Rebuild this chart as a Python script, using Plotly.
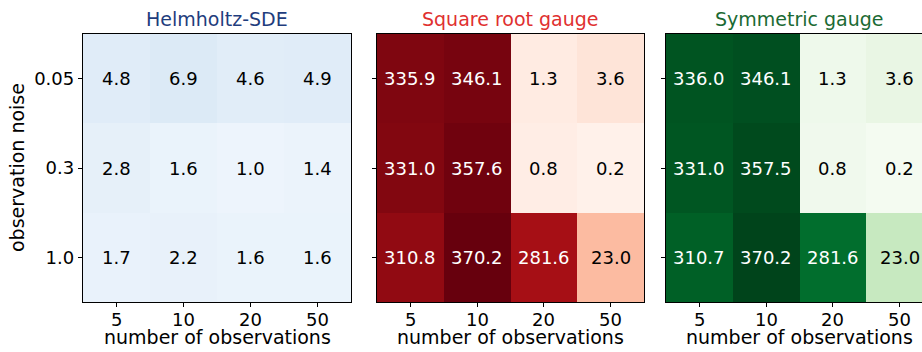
import numpy as np
import plotly.graph_objects as go
import plotly.colors as pc

# ---- data -------------------------------------------------------------
n_obs_labels = ["5", "10", "20", "50"]
noise_labels = ["0.05", "0.3", "1.0"]

helmholtz_sde = [
    [4.8, 6.9, 4.6, 4.9],
    [2.8, 1.6, 1.0, 1.4],
    [1.7, 2.2, 1.6, 1.6],
]
square_root_gauge = [
    [335.9, 346.1, 1.3, 3.6],
    [331.0, 357.6, 0.8, 0.2],
    [310.8, 370.2, 281.6, 23.0],
]
symmetric_gauge = [
    [336.0, 346.1, 1.3, 3.6],
    [331.0, 357.5, 0.8, 0.2],
    [310.7, 370.2, 281.6, 23.0],
]

panel_titles = ["Helmholtz-SDE", "Square root gauge", "Symmetric gauge"]
title_colors = ["#1f3d7d", "#e0302f", "#1b6a33"]
cmaps = [pc.sequential.Blues, pc.sequential.Reds, pc.sequential.Greens]
panels = [helmholtz_sde, square_root_gauge, symmetric_gauge]

# shared power-law (gamma = 0.5) colour normalisation across the panels
vmax = max(max(max(r) for r in p) for p in panels)

W, H = 922, 352
# panel placement in pixels (left, right); the last panel runs past the edge
px_left = [83, 377, 666]
px_right = [351, 644, 933]
px_top, px_bottom = 34, 302

FONT_NUM = "DejaVu Sans"
FONT_TXT = "DejaVu Sans"


def even_scale(colors):
    n = len(colors)
    return [[i / (n - 1), c] for i, c in enumerate(colors)]


fig = go.Figure()
annotations = []
ncol = len(n_obs_labels)

for k, (vals, cmap) in enumerate(zip(panels, cmaps)):
    arr = np.array(vals, dtype=float)
    norm = np.sqrt(arr / vmax)
    xa = "x" if k == 0 else f"x{k+1}"
    ya = "y" if k == 0 else f"y{k+1}"
    fig.add_trace(go.Heatmap(
        z=norm,
        x=list(range(ncol)),
        y=list(range(len(noise_labels))),
        colorscale=even_scale(cmap),
        zmin=0, zmax=1,
        showscale=False,
        hoverinfo="skip",
        xaxis=xa, yaxis=ya,
    ))

    # cell value labels: white on dark cells, black on light ones
    for i, row in enumerate(vals):
        for j, v in enumerate(row):
            annotations.append(dict(
                text=f"{v:.1f}", x=j, y=i, xref=xa, yref=ya,
                showarrow=False, xanchor="center", yanchor="middle",
                font=dict(family=FONT_NUM, size=18,
                          color="white" if norm[i, j] > 0.6 else "black"),
            ))

    l, r = px_left[k], px_right[k]
    vis_r = min(r, W)
    col_w = (r - l) / ncol
    x_hi = -0.5 + (vis_r - l) / col_w

    xkey = "xaxis" if k == 0 else f"xaxis{k+1}"
    ykey = "yaxis" if k == 0 else f"yaxis{k+1}"
    fig.layout[xkey] = dict(
        domain=[l / W, vis_r / W],
        range=[-0.5, x_hi],
        tickmode="array", tickvals=list(range(ncol)), ticktext=n_obs_labels,
        showticklabels=False,
        ticks="outside", ticklen=4, tickwidth=1, tickcolor="black",
        showline=True, linecolor="black", linewidth=1.3, mirror=True,
        showgrid=False, zeroline=False, anchor=ya, fixedrange=True,
    )
    fig.layout[ykey] = dict(
        domain=[1 - px_bottom / H, 1 - px_top / H],
        range=[2.5, -0.5],
        tickmode="array", tickvals=list(range(len(noise_labels))),
        ticktext=noise_labels, showticklabels=(k == 0),
        ticks="outside", ticklen=4, tickwidth=1, tickcolor="black",
        tickfont=dict(family=FONT_NUM, size=18, color="black"),
        showline=True, linecolor="black", linewidth=1.3,
        mirror=(vis_r == r),
        showgrid=False, zeroline=False, anchor=xa, fixedrange=True,
    )

    # x tick labels, placed just under the ticks
    for j, lab in enumerate(n_obs_labels):
        annotations.append(dict(
            text=lab, x=j, y=1 - 319 / H, xref=xa, yref="paper",
            showarrow=False, xanchor="center", yanchor="middle",
            font=dict(family=FONT_NUM, size=18, color="black"),
        ))

    cx = (l + r) / 2 / W
    annotations.append(dict(
        text=panel_titles[k], x=cx, y=1 - 19 / H, xref="paper", yref="paper",
        xanchor="center", yanchor="middle", showarrow=False,
        font=dict(family=FONT_TXT, size=19, color=title_colors[k]),
    ))
    annotations.append(dict(
        text="number of observations", x=cx, y=1 - 337 / H,
        xref="paper", yref="paper", xanchor="center", yanchor="middle",
        showarrow=False, font=dict(family=FONT_TXT, size=19, color="black"),
    ))

annotations.append(dict(
    text="observation noise", x=17 / W, y=1 - (px_top + px_bottom) / 2 / H,
    xref="paper", yref="paper", xanchor="center", yanchor="middle",
    textangle=-90, showarrow=False,
    font=dict(family=FONT_TXT, size=19, color="black"),
))

fig.update_layout(
    width=W, height=H,
    margin=dict(l=0, r=0, t=0, b=0),
    paper_bgcolor="white", plot_bgcolor="white",
    annotations=annotations,
    showlegend=False,
)

fig.write_html("out.html", config={"displayModeBar": False})
